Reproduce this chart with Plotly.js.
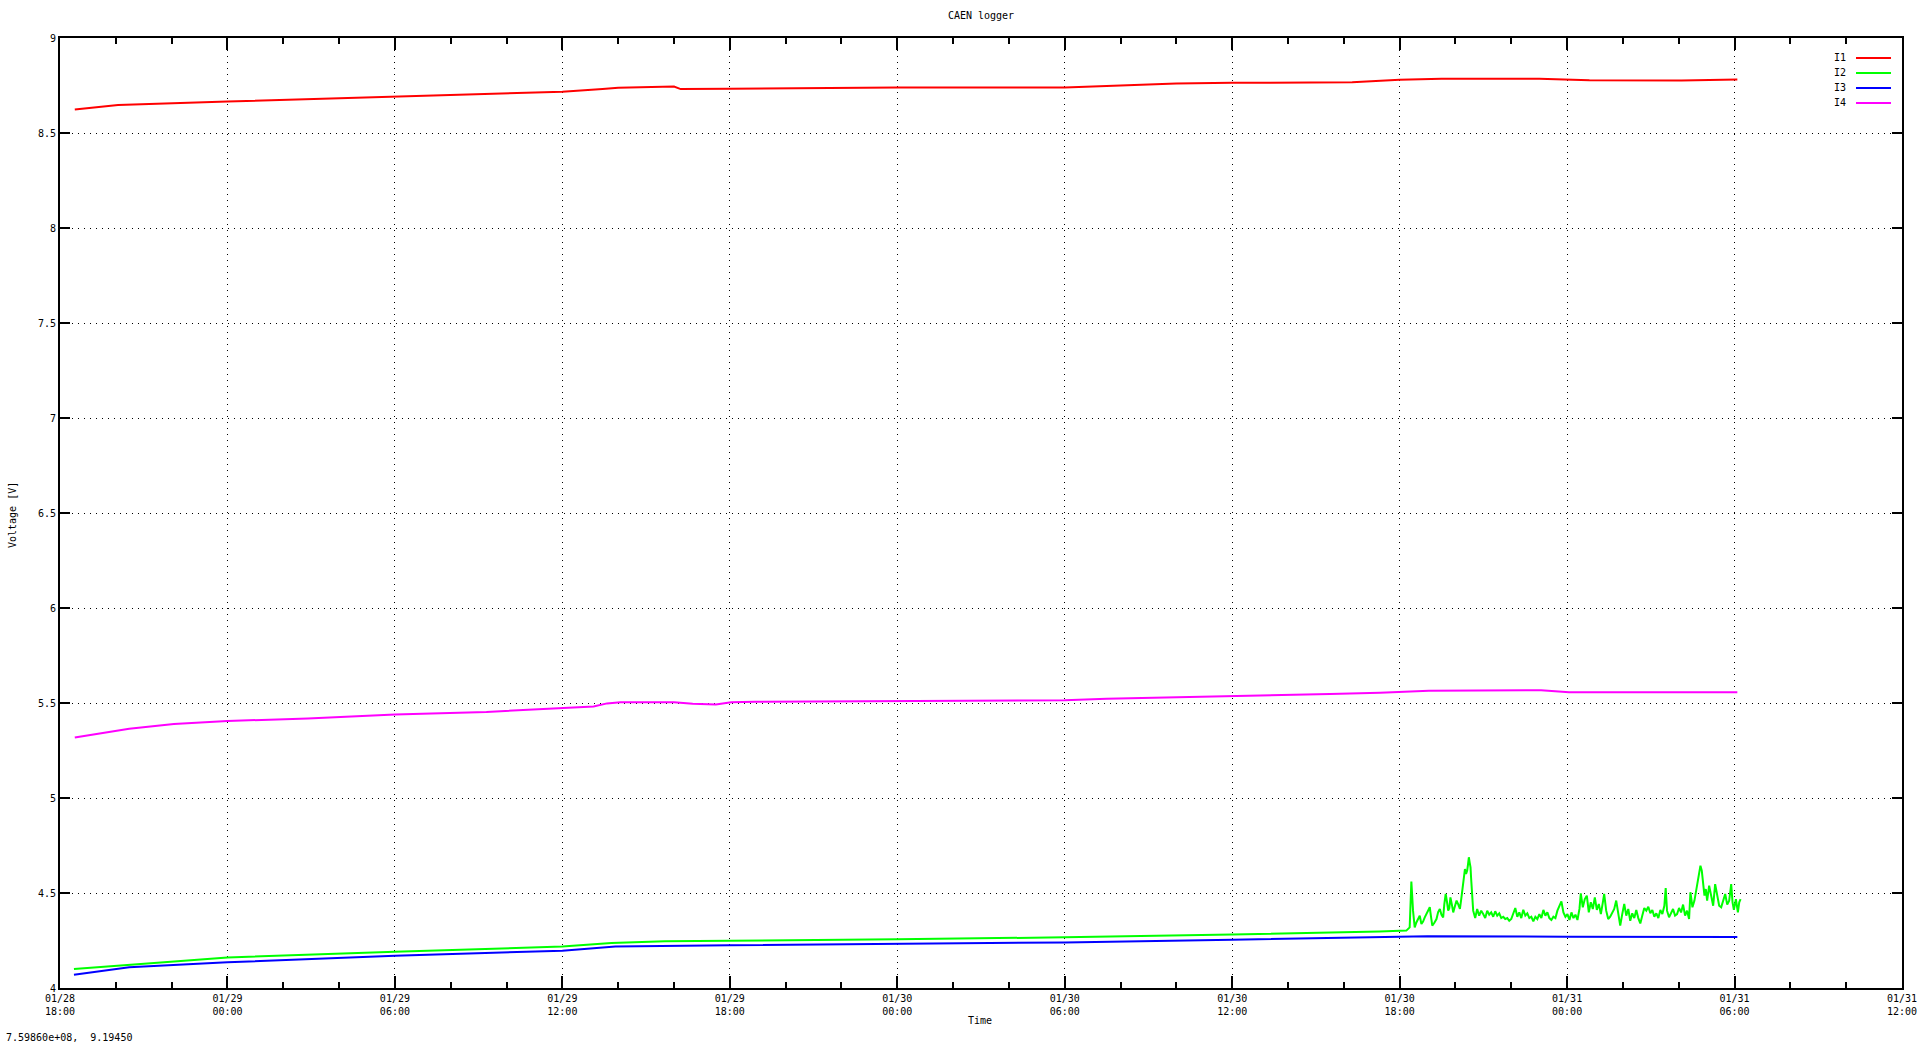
<!DOCTYPE html>
<html>
<head>
<meta charset="utf-8">
<script src="https://cdn.plot.ly/plotly-3.0.1.min.js"></script>
<style>
html,body{margin:0;padding:0;background:#fff;}
#chart{width:1920px;height:1043px;}
</style>
</head>
<body>
<div id="chart"></div>
<script>
// ---- data ----
// time values are hours elapsed since the start of the x axis (2024-01-28 18:00)
const startTime = '2024-01-28 18:00';
const endTime = '2024-01-31 12:00';
const seriesNames = ['I1', 'I2', 'I3', 'I4'];
const seriesColors = ['#ff0000', '#00ff00', '#0000ff', '#ff00ff'];

const i1Hours = [0.53,2.08,6,12,18,19.44,20,22,22.24,24,30,36,37,38.2,40,42,46.3,48,49.5,53,54.8,58.1,60.1];
const i1Volt  = [8.624,8.647,8.666,8.691,8.717,8.731,8.738,8.745,8.731,8.733,8.740,8.740,8.745,8.752,8.760,8.764,8.767,8.780,8.785,8.785,8.778,8.776,8.781];

const i4Hours = [0.53,1.36,2.48,4.08,6,8.88,12,15.28,18,19.12,19.6,20.08,22,22.67,23.5,24.05,24.9,30,36,37.5,40.5,42,44.3,45.5,47.3,49.05,53.07,54.07,60.1];
const i4Volt  = [5.318,5.339,5.365,5.389,5.405,5.419,5.439,5.453,5.474,5.482,5.498,5.504,5.504,5.496,5.492,5.504,5.507,5.509,5.514,5.523,5.532,5.535,5.540,5.547,5.554,5.565,5.567,5.556,5.556];

const i3Hours = [0.5,2.48,6,12,18,19.9,24,30,36,42,48,49,54,60.1];
const i3Volt  = [4.070,4.109,4.135,4.170,4.196,4.218,4.225,4.232,4.240,4.254,4.270,4.273,4.270,4.268];

const i2Hours = [0.5,2.48,6,12,18,19.76,21.68,24,30,36,42,47.28,48.24,
48.36,48.42,48.48,48.54,48.60,48.66,48.72,48.78,48.84,48.90,48.96,49.02,49.08,49.12,49.17,49.25,49.32,49.38,49.44,49.50,49.56,49.60,49.65,49.70,49.74,49.78,49.82,49.87,49.92,49.98,
50.04,50.10,50.16,50.20,50.25,50.29,50.34,50.38,50.42,50.45,50.48,50.51,50.54,50.56,50.59,
50.635,50.707,50.778,50.850,50.922,50.994,51.066,51.138,51.210,51.281,51.353,51.425,51.497,51.569,51.641,51.713,51.784,51.856,51.928,
52.000,52.072,52.144,52.216,52.287,52.359,52.431,52.503,52.575,52.647,52.719,52.790,52.862,52.934,
53.006,53.078,53.150,53.222,53.293,53.365,53.437,53.509,53.581,53.653,53.725,53.796,53.868,53.940,
54.012,54.084,54.156,54.228,54.299,54.371,54.443,54.491,54.563,54.635,54.707,54.778,54.850,54.922,54.994,
55.066,55.138,55.210,55.281,55.329,55.401,55.473,55.545,55.617,55.689,55.760,55.832,55.904,55.976,
56.048,56.120,56.192,56.263,56.335,56.407,56.479,56.551,56.623,56.695,56.766,56.838,56.910,56.982,
57.054,57.126,57.198,57.269,57.341,57.413,57.485,57.533,57.581,57.653,57.725,57.796,57.868,57.940,
58.012,58.084,58.156,58.228,58.299,58.371,58.419,58.491,58.563,58.635,58.683,58.731,58.778,58.826,58.874,58.922,58.970,
59.018,59.090,59.162,59.234,59.305,59.377,59.449,59.521,59.593,59.665,59.737,59.808,59.880,59.928,59.976,
60.048,60.120,60.168,60.216];
const i2Volt = [4.100,4.121,4.161,4.191,4.218,4.237,4.246,4.249,4.256,4.267,4.281,4.298,4.302,
4.319,4.560,4.407,4.319,4.345,4.363,4.380,4.337,4.350,4.372,4.390,4.407,4.425,4.380,4.328,4.345,4.363,4.400,4.416,4.385,4.372,4.440,4.495,4.450,4.407,4.420,4.477,4.440,4.398,4.430,
4.460,4.440,4.416,4.460,4.530,4.580,4.626,4.600,4.618,4.650,4.688,4.660,4.635,4.580,4.521,
4.407,4.368,4.416,4.381,4.407,4.389,4.368,4.407,4.386,4.398,4.375,4.404,4.381,4.393,4.368,4.375,4.363,4.368,4.354,
4.363,4.389,4.421,4.375,4.398,4.368,4.412,4.381,4.393,4.368,4.375,4.351,4.375,4.363,
4.389,4.368,4.411,4.381,4.398,4.368,4.358,4.375,4.368,4.407,4.433,4.456,4.398,4.375,
4.389,4.358,4.398,4.368,4.386,4.358,4.416,4.498,4.425,4.468,4.486,4.398,4.451,4.416,4.477,
4.411,4.442,4.389,4.451,4.495,4.407,4.363,4.375,4.398,4.416,4.460,4.398,4.328,4.389,
4.442,4.381,4.416,4.354,4.393,4.368,4.411,4.368,4.340,4.381,4.421,4.407,4.428,4.393,
4.411,4.375,4.393,4.368,4.411,4.389,4.433,4.526,4.407,4.372,4.398,4.416,4.381,4.389,
4.421,4.398,4.439,4.381,4.407,4.363,4.504,4.425,4.460,4.530,4.574,4.600,4.644,4.618,4.565,4.486,4.521,
4.460,4.539,4.477,4.433,4.547,4.486,4.433,4.425,4.468,4.495,4.439,4.460,4.547,4.451,4.411,
4.468,4.398,4.451,4.468];

const yTickVals = [4,4.5,5,5.5,6,6.5,7,7.5,8,8.5,9];
const titleText = 'CAEN logger';
const xTitleText = 'Time';
const yTitleText = 'Voltage [V]';
const coordText = '7.59860e+08,  9.19450';

// ---- chart ----
const FONT = 'DejaVu Sans Mono, monospace';
const t0 = Date.UTC(2024, 0, 28, 18, 0, 0);
const toDate = h => t0 + h * 3600000;
const hours = [i1Hours, i2Hours, i3Hours, i4Hours];
const volts = [i1Volt, i2Volt, i3Volt, i4Volt];

const traces = seriesNames.map((n, i) => ({
  type: 'scatter', mode: 'lines', name: n,
  x: hours[i].map(toDate), y: volts[i],
  line: {color: seriesColors[i], width: 2, shape: 'linear'},
  hoverinfo: 'x+y+name'
}));

// legend (gnuplot style: label left, sample right), placed in the top-right corner
const legRowY = [0.97895, 0.96316, 0.94737, 0.93158];
const annotations = seriesNames.map((n, i) => ({
  xref: 'paper', yref: 'paper', x: 0.9707, y: legRowY[i],
  xanchor: 'right', yanchor: 'middle', text: n, showarrow: false,
  font: {family: FONT, size: 10, color: '#000'}
}));
const shapes = seriesNames.map((n, i) => ({
  type: 'line', xref: 'paper', yref: 'paper',
  x0: 0.97503, x1: 0.99403, y0: legRowY[i], y1: legRowY[i],
  line: {color: seriesColors[i], width: 2}
}));

annotations.push({
  xref: 'paper', yref: 'paper', x: 0.4995, y: -0.0337, xanchor: 'center', yanchor: 'middle',
  text: xTitleText, showarrow: false, font: {family: FONT, size: 10, color: '#000'}
});
annotations.push({
  xref: 'paper', yref: 'paper', x: -0.0255, y: 0.4979, xanchor: 'center', yanchor: 'middle',
  text: yTitleText, textangle: -90, showarrow: false, font: {family: FONT, size: 10, color: '#000'}
});
annotations.push({
  xref: 'paper', yref: 'paper', x: -0.0302, y: -0.0526, xanchor: 'left', yanchor: 'middle',
  text: coordText, showarrow: false, font: {family: FONT, size: 10, color: '#000'}
});

const layout = {
  width: 1920, height: 1043,
  margin: {l: 60, r: 18, t: 38, b: 55, pad: 0},
  paper_bgcolor: '#fff', plot_bgcolor: '#fff',
  showlegend: false,
  font: {family: FONT, size: 10, color: '#000'},
  title: {text: titleText, xref: 'paper', x: 0.5, xanchor: 'center',
          yref: 'container', y: 0.9856, yanchor: 'middle',
          font: {family: FONT, size: 10, color: '#000'}},
  xaxis: {
    type: 'date',
    range: [startTime, endTime],
    dtick: 6 * 3600 * 1000, tick0: startTime,
    tickformat: '%m/%d<br>%H:%M',
    ticks: 'inside', ticklen: 12, tickwidth: 2, tickcolor: '#000',
    minor: {dtick: 2 * 3600 * 1000, ticks: 'inside', ticklen: 6, tickwidth: 2, tickcolor: '#000', showgrid: false},
    showline: true, linewidth: 2, linecolor: '#000', mirror: 'ticks',
    showgrid: true, gridcolor: '#000', gridwidth: 1, griddash: '1px,5px',
    zeroline: false, automargin: false,
    tickfont: {family: FONT, size: 10, color: '#000'}
  },
  yaxis: {
    range: [4, 9], tickvals: yTickVals,
    ticks: 'inside', ticklen: 10, tickwidth: 2, tickcolor: '#000',
    showline: true, linewidth: 2, linecolor: '#000', mirror: 'ticks',
    showgrid: true, gridcolor: '#000', gridwidth: 1, griddash: '1px,5px',
    zeroline: false, automargin: false,
    tickfont: {family: FONT, size: 10, color: '#000'}
  },
  annotations: annotations,
  shapes: shapes
};

Plotly.newPlot('chart', traces, layout, {displayModeBar: false});
</script>
</body>
</html>
